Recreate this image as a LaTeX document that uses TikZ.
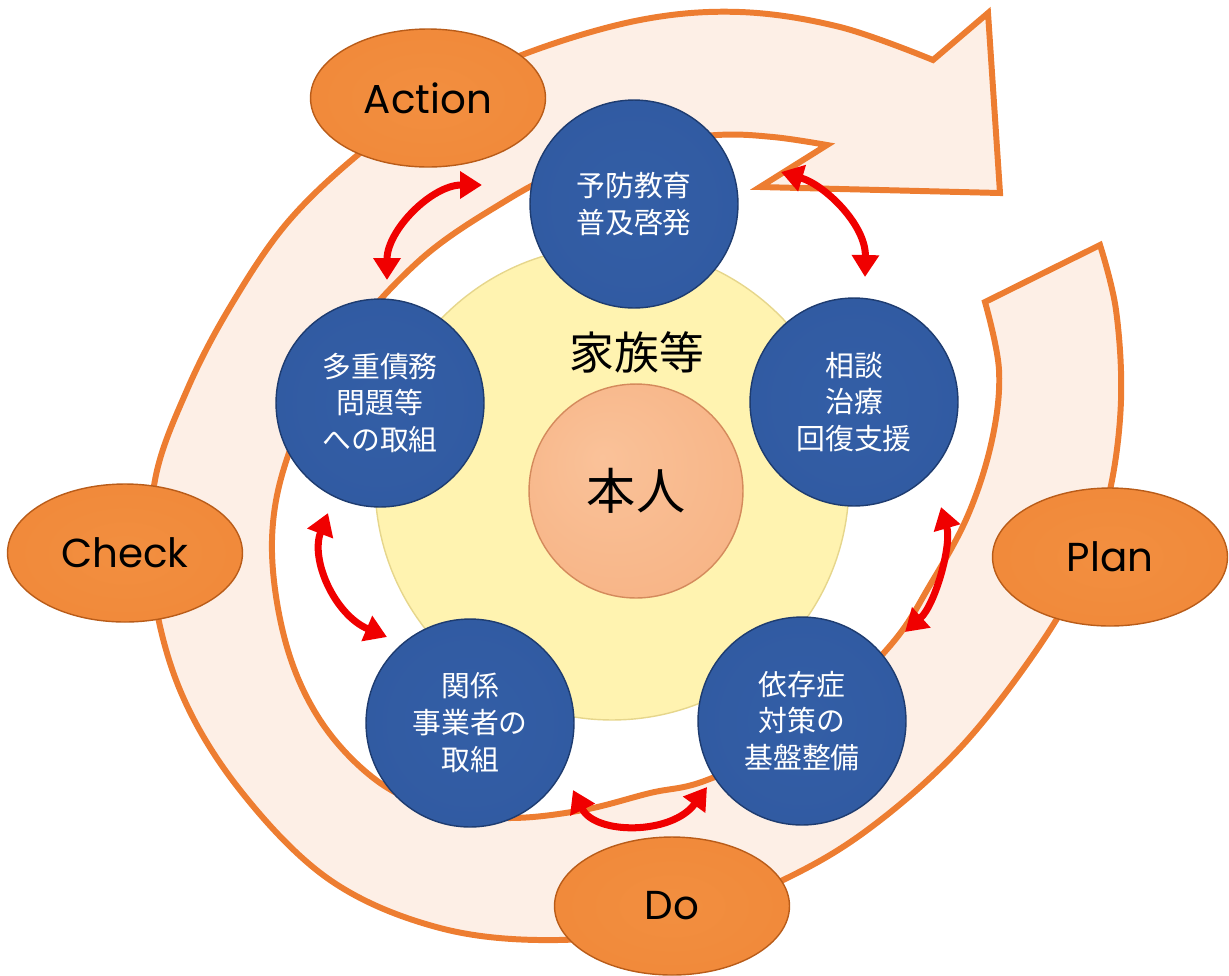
\documentclass[tikz,border=0pt]{standalone}
\usepackage{fontspec}
\setmainfont{Noto Sans CJK JP}
\newfontfamily\latinfont{Poppins}
\usetikzlibrary{arrows.meta,shapes.geometric}

\definecolor{bandfill}{RGB}{253,239,230}
\definecolor{bandline}{RGB}{237,125,49}
\definecolor{ballbluedark}{RGB}{30,60,112}
\definecolor{pdcaorangedark}{RGB}{185,92,25}
\definecolor{famyellow}{RGB}{255,243,176}
\definecolor{famyellowline}{RGB}{230,214,140}
\definecolor{selfpeachline}{RGB}{212,138,92}
\definecolor{arrowred}{RGB}{240,0,0}

\pgfdeclareradialshading{blueball}{\pgfpoint{0bp}{0bp}}{rgb(0bp)=(0.20,0.37,0.65); rgb(36bp)=(0.19,0.35,0.63); rgb(46bp)=(0.17,0.32,0.58); rgb(50bp)=(0.12,0.24,0.46)}
\pgfdeclareradialshading{orangeball}{\pgfpoint{0bp}{0bp}}{rgb(0bp)=(0.95,0.56,0.25); rgb(38bp)=(0.94,0.53,0.22); rgb(46bp)=(0.88,0.46,0.16); rgb(50bp)=(0.76,0.38,0.10)}
\pgfdeclareradialshading{peachball}{\pgfpoint{-8bp}{8bp}}{rgb(0bp)=(0.98,0.76,0.60); rgb(30bp)=(0.97,0.71,0.53); rgb(46bp)=(0.95,0.66,0.47); rgb(50bp)=(0.88,0.58,0.40)}

\tikzset{
  band/.style={fill=bandfill, draw=bandline, line width=3.4pt, line join=miter},
  stage/.style={circle, minimum size=4.16cm, inner sep=0pt, shade, shading=blueball,
    draw=ballbluedark, line width=0.8pt, text=white, align=center,
    font=\fontsize{16.4}{21}\selectfont},
  pdca/.style={ellipse, minimum width=4.7cm, minimum height=2.76cm, inner sep=0pt,
    shade, shading=orangeball, draw=pdcaorangedark, line width=0.8pt,
    font=\latinfont\fontsize{23}{27}\selectfont},
  link/.style={draw=arrowred, line width=4pt,
    {Triangle[length=12.5pt,width=15pt]}-{Triangle[length=12.5pt,width=15pt]}},
}

\begin{document}
\begin{tikzpicture}[x=0.02cm, y=-0.02cm]
\useasboundingbox (0,0) rectangle (1229,975);

% spiral band arrow
\path[band] plot[smooth, tension=0.6] coordinates {
  (1100,245) (1116,310) (1121,400) (1110,490) (1085,565) (1040,645)
  (961,747) (870,828) (783,880) (670,925) (557,940) (440,928)
  (330,880) (240,790) (180,690) (152,580) (155,480) (187,390)
  (230,307) (287,223) (360,153) (440,95) (527,53) (640,20) (740,12)
  (840,27) (933,60)}
  -- (988,13) -- (1000,193) -- (760,187)
  -- plot[smooth, tension=0.6] coordinates {
  (827,145) (773,137) (717,135) (640,145) (570,168) (507,200)
  (420,260) (340,350) (290,450) (272,540) (285,640) (320,720)
  (376,780) (440,810) (510,818) (583,810) (650,793) (707,780)
  (800,735) (889,647) (930,585) (968,515) (992,440) (999,370) (985,302)}
  -- cycle;

% family circle and self
\node[circle, minimum size=9.48cm, inner sep=0pt, fill=famyellow, draw=famyellowline,
  line width=0.8pt] (family) at (612,483) {};
\node[font=\fontsize{25.5}{30}\selectfont] (familylabel) at (637,352) {家族等};
\node[circle, minimum size=4.28cm, inner sep=0pt, shade, shading=peachball,
  draw=selfpeachline, line width=0.8pt, font=\fontsize{28}{32}\selectfont]
  (self) at (636,491) {本人};

% five stage circles
\node[stage] (prev) at (634,204) {予防教育\\普及啓発};
\node[stage] (care) at (854,402) {相談\\治療\\回復支援};
\node[stage] (base) at (802,721) {依存症\\対策の\\基盤整備};
\node[stage] (biz) at (470,723) {関係\\事業者の\\取組};
\node[stage] (debt) at (380,403) {多重債務\\問題等\\への取組};

% red two-way arrows
\coordinate (l1a) at (387,280); \coordinate (l1b) at (482,185);
\coordinate (l2a) at (781,172); \coordinate (l2b) at (865,277);
\coordinate (l3a) at (941,507); \coordinate (l3b) at (905,632);
\coordinate (l4a) at (573,790); \coordinate (l4b) at (707,787);
\coordinate (l5a) at (328,513); \coordinate (l5b) at (387,637);
\draw[link] (l1a) .. controls (387,230) and (432,185) .. (l1b);
\draw[link] (l2a) .. controls (825,185) and (866,225) .. (l2b);
\draw[link] (l3a) .. controls (952,545) and (935,605) .. (l3b);
\draw[link] (l4a) .. controls (595,835) and (672,835) .. (l4b);
\draw[link] (l5a) .. controls (310,560) and (335,615) .. (l5b);

% PDCA ellipses
\node[pdca] (action) at (428,98) {Action};
\node[pdca] (check) at (125,553) {Check};
\node[pdca] (plan) at (1110,557) {Plan};
\node[pdca] (do) at (672,906) {Do};
\end{tikzpicture}
\end{document}
